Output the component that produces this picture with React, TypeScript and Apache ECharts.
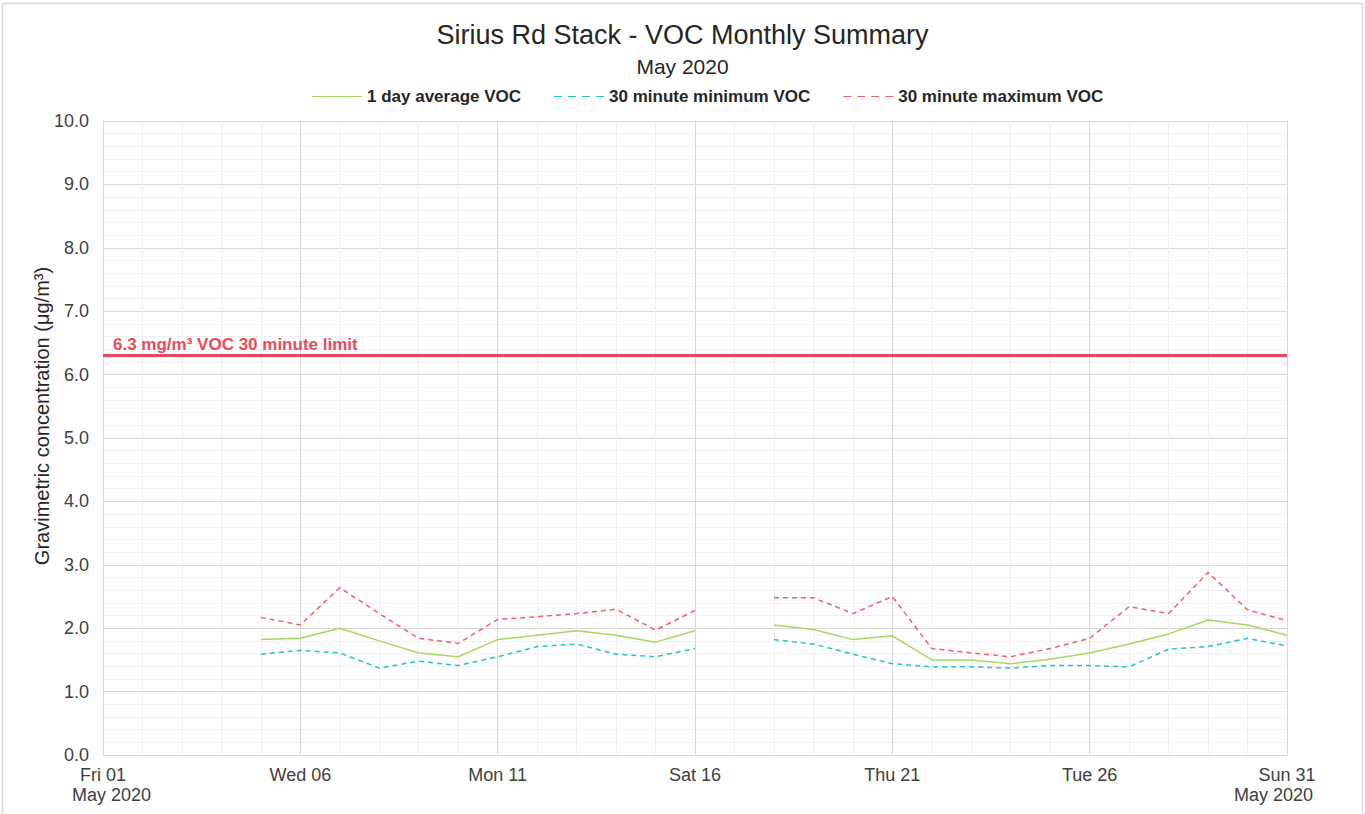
import React, { useEffect, useRef } from "react";
import * as echarts from "echarts";

const days: number[] = Array.from({ length: 31 }, (_, i) => i + 1);
const dayLabels: Record<number, string> = {
  1: "Fri 01",
  6: "Wed 06",
  11: "Mon 11",
  16: "Sat 16",
  21: "Thu 21",
  26: "Tue 26",
  31: "Sun 31",
};
// values for May 1..31 (null = no data)
const avgVOC: (number | null)[] = [
  null, null, null, null, 1.82, 1.84, 2.0, 1.8, 1.61, 1.55, 1.82, 1.89, 1.96, 1.89, 1.78, 1.96,
  null, 2.05, 1.98, 1.82, 1.88, 1.5, 1.5, 1.44, 1.51, 1.61, 1.75, 1.91, 2.13, 2.05, 1.89,
];
const minVOC: (number | null)[] = [
  null, null, null, null, 1.59, 1.65, 1.61, 1.37, 1.48, 1.41, 1.55, 1.71, 1.75, 1.59, 1.55, 1.68,
  null, 1.82, 1.75, 1.59, 1.44, 1.39, 1.39, 1.37, 1.41, 1.41, 1.39, 1.67, 1.71, 1.84, 1.72,
];
const maxVOC: (number | null)[] = [
  null, null, null, null, 2.17, 2.05, 2.64, 2.23, 1.84, 1.76, 2.14, 2.18, 2.23, 2.3, 1.97, 2.28,
  null, 2.48, 2.48, 2.23, 2.5, 1.68, 1.61, 1.55, 1.68, 1.84, 2.34, 2.23, 2.88, 2.29, 2.12,
];
const limitValue = 6.3;
const limitLabel = "6.3 mg/m³ VOC 30 minute limit";

const FONT = "Liberation Sans, Arial, sans-serif";

export default function App() {
  const ref = useRef<HTMLDivElement>(null);
  useEffect(() => {
    if (!ref.current) return;
    const chart = echarts.init(ref.current, null, { renderer: "svg" });
    const toPairs = (arr: (number | null)[]) => days.map((d, i) => [d, arr[i] === null ? "-" : arr[i]]);
    const dash4 = "path://M0,4.5 L8,4.5 L8,5.5 L0,5.5 Z M14,4.5 L22,4.5 L22,5.5 L14,5.5 Z M28,4.5 L36,4.5 L36,5.5 L28,5.5 Z M42,4.5 L50,4.5 L50,5.5 L42,5.5 Z";
    chart.setOption({
      animation: false,
      backgroundColor: "#ffffff",
      textStyle: { fontFamily: FONT },
      title: [
        {
          text: "Sirius Rd Stack - VOC Monthly Summary",
          left: "center",
          top: 16,
          textStyle: { fontSize: 27, fontWeight: "normal", color: "#262626", fontFamily: FONT },
        },
        {
          text: "May 2020",
          left: "center",
          top: 51,
          textStyle: { fontSize: 21, fontWeight: "normal", color: "#262626", fontFamily: FONT },
        },
      ],
      legend: {
        top: 83,
        left: 307,
        itemGap: 33,
        itemWidth: 50,
        itemHeight: 10,
        textStyle: { fontSize: 17, fontWeight: "bold", color: "#262626", fontFamily: FONT },
        data: [
          { name: "1 day average VOC", icon: "path://M0,4.5 L50,4.5 L50,5.5 L0,5.5 Z" },
          { name: "30 minute minimum VOC", icon: dash4 },
          { name: "30 minute maximum VOC", icon: dash4 },
        ],
      },
      grid: { left: 103, right: 78, top: 121, bottom: 59, containLabel: false },
      xAxis: {
        type: "value",
        min: 1,
        max: 31,
        interval: 1,
        axisLine: { show: true, lineStyle: { color: "#d9d9d9", width: 1 } },
        axisTick: { show: false },
        axisLabel: {
          color: "#404040",
          fontSize: 18,
          margin: 11,
          fontFamily: FONT,
          formatter: (v: number) => dayLabels[v] || "",
        },
        splitLine: {
          show: true,
          lineStyle: {
            color: ["#d9d9d9", "#f0f0f0", "#f0f0f0", "#f0f0f0", "#f0f0f0"],
            width: 1,
          },
        },
      },
      yAxis: {
        type: "value",
        min: 0,
        max: 10,
        interval: 1,
        name: "Gravimetric concentration (μg/m³)",
        nameLocation: "middle",
        nameGap: 51,
        nameMoveOverlap: false,
        nameTextStyle: { fontSize: 20, color: "#262626", fontFamily: FONT, padding: [0, 0, 0, 44] },
        axisLine: { show: true, lineStyle: { color: "#d9d9d9" } },
        axisTick: { show: false },
        axisLabel: {
          color: "#404040",
          fontSize: 18,
          margin: 14,
          fontFamily: FONT,
          formatter: (v: number) => v.toFixed(1),
        },
        splitLine: { show: true, lineStyle: { color: "#d9d9d9", width: 1 } },
        minorTick: { show: false, splitNumber: 5 },
        minorSplitLine: { show: true, lineStyle: { color: "#f0f0f0", width: 1 } },
      },
      series: [
        {
          name: "1 day average VOC",
          type: "line",
          data: toPairs(avgVOC),
          showSymbol: false,
          symbol: "none",
          connectNulls: false,
          color: "#a9d65b",
          lineStyle: { color: "#a9d65b", width: 1.5, type: "solid" },
          z: 3,
        },
        {
          name: "30 minute minimum VOC",
          type: "line",
          data: toPairs(minVOC),
          showSymbol: false,
          symbol: "none",
          connectNulls: false,
          color: "#1fc6c4",
          lineStyle: { color: "#1fc6c4", width: 1.5, type: [5, 4] },
          z: 3,
        },
        {
          name: "30 minute maximum VOC",
          type: "line",
          data: toPairs(maxVOC),
          showSymbol: false,
          symbol: "none",
          connectNulls: false,
          color: "#f25e6b",
          lineStyle: { color: "#f25e6b", width: 1.5, type: [5, 4] },
          z: 3,
          markLine: {
            silent: true,
            symbol: "none",
            lineStyle: { color: "#e94b5a", width: 3, type: "solid" },
            label: {
              show: true,
              position: "insideStartTop",
              formatter: limitLabel,
              color: "#e94b5a",
              fontSize: 17,
              fontWeight: "bold",
              fontFamily: FONT,
              distance: [10, 3],
            },
            data: [{ yAxis: limitValue }],
          },
        },
      ],
      graphic: [
        {
          type: "rect",
          shape: { x: 2.5, y: 3.5, width: 1360, height: 820 },
          style: { fill: "none", stroke: "#d9d9d9", lineWidth: 1.5 },
          silent: true,
          z: -1,
        },
        {
          type: "text",
          left: 72,
          top: 786,
          style: { text: "May 2020", fill: "#404040", font: "18px " + FONT },
        },
        {
          type: "text",
          right: 52,
          top: 786,
          style: { text: "May 2020", fill: "#404040", font: "18px " + FONT },
        },
      ],
    });
    return () => chart.dispose();
  }, []);
  return (
    <div
      ref={ref}
      style={{ position: "absolute", left: 0, top: 0, width: 1365, height: 814 }}
    />
  );
}
